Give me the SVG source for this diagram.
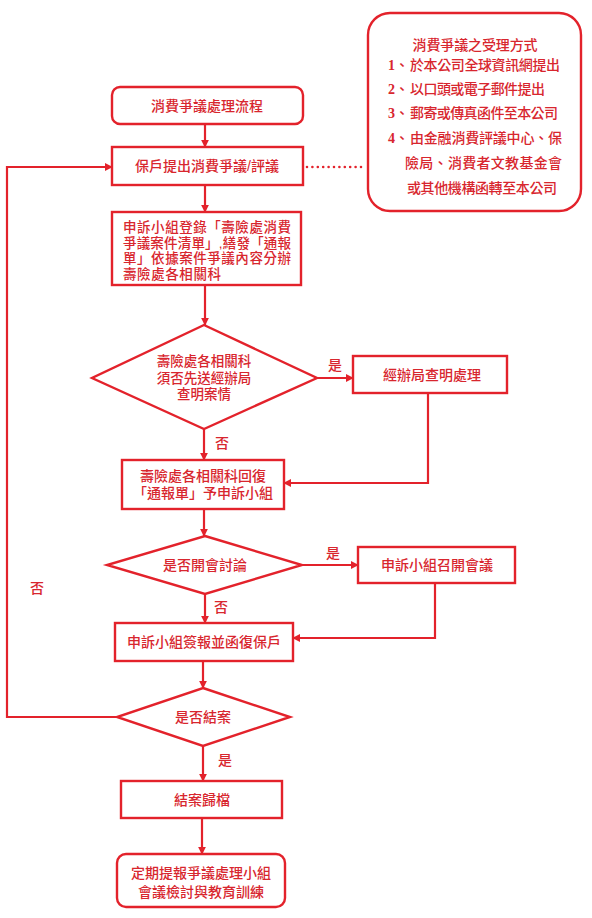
<svg xmlns="http://www.w3.org/2000/svg" width="592" height="918" viewBox="0 0 592 918">
<defs>
<marker id="ah" viewBox="0 0 10 10" refX="9" refY="5" markerWidth="8" markerHeight="8" markerUnits="userSpaceOnUse" orient="auto">
<path d="M0,0 L10,5 L0,10 z" fill="#e3222b"/>
</marker>
<style>
.box{fill:#fff;stroke:#e3222b;stroke-width:2.4}
.arr{fill:none;stroke:#e3222b;stroke-width:2.2;marker-end:url(#ah)}
.dot{fill:none;stroke:#e3222b;stroke-width:2.6;stroke-linecap:round;stroke-dasharray:0 5.4}
text{font-family:"Liberation Sans","Noto Sans CJK TC","Noto Sans CJK SC",sans-serif;fill:#d8262e;font-size:14px;font-weight:500}
.c{text-anchor:middle;dominant-baseline:central}
.l{dominant-baseline:central}
.s{font-size:13.5px}
.num{font-family:"Liberation Serif",serif;font-weight:bold}
</style>
</defs>
<rect width="592" height="918" fill="#fff"/>

<g id="connectors">
<line class="arr" x1="205" y1="124" x2="205" y2="147"/>
<line class="dot" x1="307" y1="167" x2="366" y2="167"/>
<line class="arr" x1="205" y1="185" x2="205" y2="212"/>
<line class="arr" x1="205" y1="285" x2="205" y2="325"/>
<line class="arr" x1="317" y1="378" x2="353" y2="378"/>
<polyline class="arr" points="428,393 428,483 284,483"/>
<line class="arr" x1="204" y1="429" x2="204" y2="460"/>
<line class="arr" x1="204" y1="509" x2="204" y2="536"/>
<line class="arr" x1="302" y1="565" x2="358" y2="565"/>
<polyline class="arr" points="435,583 435,638 293,638"/>
<line class="arr" x1="205" y1="594" x2="205" y2="623"/>
<line class="arr" x1="203" y1="661" x2="203" y2="688"/>
<polyline class="arr" points="117,717 7,717 7,167 112,167"/>
<line class="arr" x1="203" y1="746" x2="203" y2="781"/>
<line class="arr" x1="202" y1="818" x2="202" y2="854"/>
<text class="c" x="335" y="365">是</text>
<text class="c" x="222" y="443">否</text>
<text class="c" x="333" y="553">是</text>
<text class="c" x="221" y="607">否</text>
<text class="c" x="37" y="588">否</text>
<text class="c" x="225" y="760">是</text>
</g>

<g id="methods">
<rect class="box" x="368" y="13" width="213" height="198" rx="22"/>
<text class="c" x="475" y="45" textLength="125" lengthAdjust="spacing">消費爭議之受理方式</text>
<text class="l" x="388" y="65"><tspan class="num">1</tspan>、</text>
<text class="l" x="410" y="65" textLength="150" lengthAdjust="spacing">於本公司全球資訊網提出</text>
<text class="l" x="388" y="89"><tspan class="num">2</tspan>、</text>
<text class="l" x="410" y="89" textLength="135" lengthAdjust="spacing">以口頭或電子郵件提出</text>
<text class="l" x="388" y="113"><tspan class="num">3</tspan>、</text>
<text class="l" x="410" y="113" textLength="148" lengthAdjust="spacing">郵寄或傳真函件至本公司</text>
<text class="l" x="388" y="138"><tspan class="num">4</tspan>、</text>
<text class="l" x="410" y="138" textLength="152" lengthAdjust="spacing">由金融消費評議中心、保</text>
<text class="l" x="405" y="163" textLength="157" lengthAdjust="spacing">險局、消費者文教基金會</text>
<text class="l" x="407" y="188" textLength="150" lengthAdjust="spacing">或其他機構函轉至本公司</text>
</g>

<g id="start">
<rect class="box" x="112" y="87" width="191" height="37" rx="8"/>
<text class="c" x="207" y="106">消費爭議處理流程</text>
</g>

<g id="submit">
<rect class="box" x="112" y="147" width="191" height="38"/>
<text class="c" x="207" y="166">保戶提出消費爭議/評議</text>
</g>

<g id="register">
<rect class="box" x="112" y="212" width="189" height="73"/>
<text class="l s"><tspan x="123" y="227" textLength="168" lengthAdjust="spacing">申訴小組登錄「壽險處消費</tspan><tspan x="123" y="242.5" textLength="168" lengthAdjust="spacing">爭議案件清單」,繕發「通報</tspan><tspan x="123" y="258" textLength="168" lengthAdjust="spacing">單」依據案件爭議內容分辦</tspan><tspan x="123" y="273.5" textLength="98" lengthAdjust="spacing">壽險處各相關科</tspan></text>
</g>

<g id="decision1">
<polygon class="box" points="204,325 317,378 204,429 92,378"/>
<text class="c s"><tspan x="204" y="361">壽險處各相關科</tspan><tspan x="204" y="377.5">須否先送經辦局</tspan><tspan x="204" y="394">查明案情</tspan></text>
</g>

<g id="bureau">
<rect class="box" x="353" y="356" width="154" height="37"/>
<text class="c" x="432" y="375">經辦局查明處理</text>
</g>

<g id="reply">
<rect class="box" x="122" y="460" width="162" height="49"/>
<text class="c"><tspan x="203" y="476">壽險處各相關科回復</tspan><tspan x="203" y="493">「通報單」予申訴小組</tspan></text>
</g>

<g id="decision2">
<polygon class="box" points="205,536 302,565 205,594 107,565"/>
<text class="c" x="205" y="565">是否開會討論</text>
</g>

<g id="meeting">
<rect class="box" x="358" y="547" width="157" height="36"/>
<text class="c" x="437" y="565">申訴小組召開會議</text>
</g>

<g id="respond">
<rect class="box" x="115" y="623" width="178" height="38"/>
<text class="c" x="204" y="642">申訴小組簽報並函復保戶</text>
</g>

<g id="decision3">
<polygon class="box" points="203,688 290,717 203,746 117,717"/>
<text class="c" x="203" y="717">是否結案</text>
</g>

<g id="archive">
<rect class="box" x="121" y="781" width="161" height="37"/>
<text class="c" x="202" y="800">結案歸檔</text>
</g>

<g id="review">
<rect class="box" x="117" y="854" width="168" height="53" rx="9"/>
<text class="c"><tspan x="201" y="873">定期提報爭議處理小組</tspan><tspan x="201" y="892">會議檢討與教育訓練</tspan></text>
</g>
</svg>
